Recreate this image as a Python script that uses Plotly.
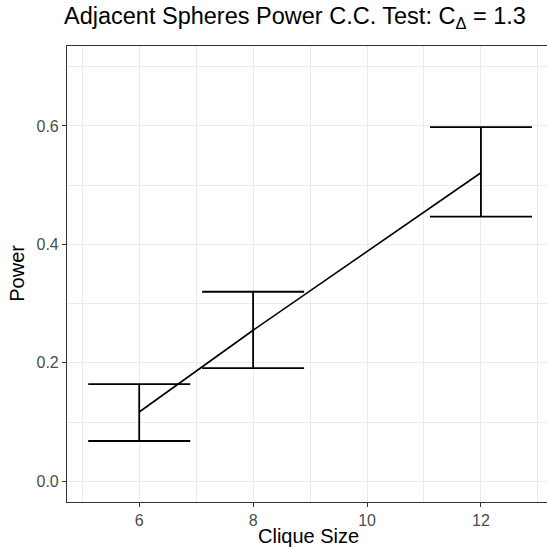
import plotly.graph_objects as go

clique_size = [6, 8, 12]
power = [0.117, 0.255, 0.521]
upper = [0.164, 0.320, 0.598]
lower = [0.068, 0.191, 0.447]
x_ticks = [6, 8, 10, 12]
y_ticks = [0.0, 0.2, 0.4, 0.6]
y_tick_text = ["0.0", "0.2", "0.4", "0.6"]

err_plus = [u - m for u, m in zip(upper, power)]
err_minus = [m - l for m, l in zip(power, lower)]

fig = go.Figure()
fig.add_trace(go.Scatter(
    x=clique_size, y=power, mode="lines",
    line=dict(color="black", width=1.6),
    error_y=dict(type="data", symmetric=False, array=err_plus, arrayminus=err_minus,
                 color="black", thickness=1.8, width=51),
    showlegend=False,
))

font = "Liberation Sans, Arial, Helvetica, sans-serif"
grid = "#EBEBEB"
fig.update_layout(
    width=547, height=549,
    margin=dict(l=67, r=0, t=45.5, b=47),
    paper_bgcolor="white", plot_bgcolor="white",
    font=dict(family=font),
    title=dict(text="Adjacent Spheres Power C.C. Test: C<sub>Δ</sub> = 1.3",
               x=64/547, xanchor="left", y=1 - 24/549, yanchor="bottom",
               font=dict(size=23.5, color="black", family=font)),
    xaxis=dict(range=[4.732, 13.16], tickvals=x_ticks, showgrid=True, gridcolor=grid,
               gridwidth=1.1, zeroline=False, showline=True, linecolor="#333333",
               linewidth=1.1, mirror=True, ticks="outside", ticklen=4,
               tickcolor="#333333", tickwidth=1.1,
               tickfont=dict(size=16, color="#4D4D4D", family=font),
               minor=dict(dtick=1, tick0=5, showgrid=True, gridcolor=grid, gridwidth=0.6, ticks="")),
    yaxis=dict(range=[-0.035, 0.735], tickvals=y_ticks, ticktext=y_tick_text, showgrid=True,
               gridcolor=grid, gridwidth=1.1, zeroline=False, showline=True,
               linecolor="#333333", linewidth=1.1, ticks="outside", ticklen=4,
               tickcolor="#333333", tickwidth=1.1,
               tickfont=dict(size=16, color="#4D4D4D", family=font),
               minor=dict(dtick=0.1, tick0=0.1, showgrid=True, gridcolor=grid, gridwidth=0.6, ticks="")),
)
fig.add_annotation(text="Clique Size", xref="paper", yref="paper", x=(308 - 67) / 480,
                   y=-(549 - 502) / 456.5, xanchor="center", yanchor="bottom",
                   showarrow=False, font=dict(size=20, color="black", family=font))
fig.add_annotation(text="Power", xref="paper", yref="paper", x=-(67 - 17.5) / 480,
                   y=(502 - 273) / 456.5, xanchor="center", yanchor="middle", textangle=-90,
                   showarrow=False, font=dict(size=20, color="black", family=font))

fig.write_html("out.html")
